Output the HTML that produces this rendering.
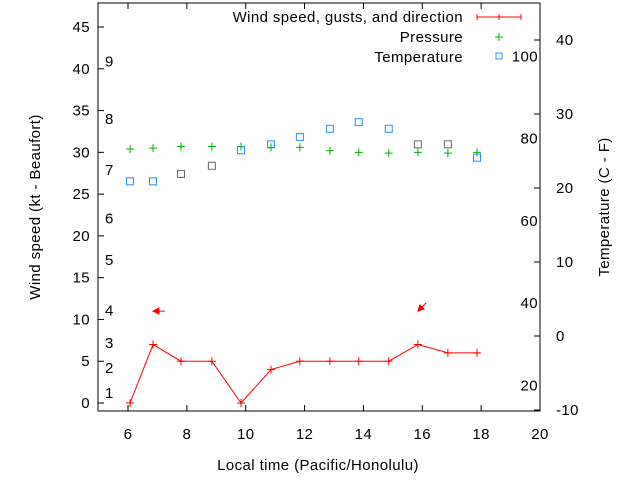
<!DOCTYPE html>
<html><head><meta charset="utf-8"><style>
body{margin:0;background:#fff;}
svg{display:block;font-family:"Liberation Sans",sans-serif;font-size:15px;letter-spacing:0.4px;}
</style></head><body>
<svg id="c" width="640" height="480"></svg>
<script>
const hours=[6.07,6.85,7.8,8.85,9.84,10.86,11.84,12.86,13.84,14.86,15.85,16.87,17.86];
const wind=[0,7,5,5,0,4,5,5,5,5,7,6,6];
const pressure=[30.4,30.5,30.7,30.7,30.7,30.6,30.6,30.2,30.0,29.9,30.0,29.9,30.0];
const tempC=[20.9,20.9,21.9,23.0,25.1,25.9,26.9,28.0,28.9,28.0,25.9,25.9,24.1];
const tempColor=["#1e90ff","#1e90ff","#666","#666","#1e90ff","#1e90ff","#1e90ff","#1e90ff","#1e90ff","#1e90ff","#666","#666","#1e90ff"];
const xTicks=[6,8,10,12,14,16,18,20];
const yTicks=[0,5,10,15,20,25,30,35,40,45];
const cTicks=[-10,0,10,20,30,40];
const fTicks=[20,40,60,80,100];
const beaufort=[1,2,3,4,5,6,7,8,9];
const beaufortKt=[1.2,4.2,7.2,11.1,17.1,22.1,27.9,34,40.9];
const arrows=[{t:6.85,w:11,dx:-1,dy:0},{t:15.85,w:11,dx:-0.7,dy:0.7}];

const L=98,R=540,T=3,B=411;
const X=v=>128+(v-6)*(412/14);
const Y=v=>403-v*(376/45);
const YC=c=>336-c*7.4;
const YF=f=>YC((f-32)*5/9);
const svg=document.getElementById('c');
const NS='http://www.w3.org/2000/svg';
function mk(tag,at,txt){const e=document.createElementNS(NS,tag);for(const k in at)e.setAttribute(k,at[k]);if(txt!==undefined)e.textContent=txt;svg.appendChild(e);return e;}

let e=mk('rect',{x:L,y:T,width:R-L,height:B-T,fill:'none',stroke:'#000'});


xTicks.forEach(v=>{
  mk('line',{x1:X(v),x2:X(v),y1:B,y2:B-6,stroke:'#000'});
  mk('line',{x1:X(v),x2:X(v),y1:T,y2:T+6,stroke:'#000'});
  e=mk('text',{x:X(v),y:439,'text-anchor':'middle'},v);
  
  
});
yTicks.forEach(v=>{
  mk('line',{x1:L,x2:L+6,y1:Y(v),y2:Y(v),stroke:'#000'});
  e=mk('text',{x:L-8,y:Y(v)+5,'text-anchor':'end'},v);
  
  
});
cTicks.forEach(v=>{
  mk('line',{x1:R,x2:R-6,y1:YC(v),y2:YC(v),stroke:'#000'});
  e=mk('text',{x:556,y:YC(v)+5},v);
  
  
});
fTicks.forEach(v=>{
  e=mk('text',{x:538,y:YF(v)+5,'text-anchor':'end'},v);
  
  
});
beaufort.forEach((b,i)=>{
  e=mk('text',{x:105,y:Y(beaufortKt[i])+5},b);
  
  
});
hours.forEach((h,i)=>{
  const x=X(h),y=Y(pressure[i]);
  e=mk('path',{d:`M${x-4},${y}h8M${x},${y-4}v8`,stroke:'#00b000'});
  
  
});
hours.forEach((h,i)=>{
  e=mk('rect',{x:X(h)-3.5,y:YC(tempC[i])-3.5,width:7,height:7,fill:'none',stroke:tempColor[i]});
  
  
});
e=mk('polyline',{points:hours.map((h,i)=>X(h)+','+Y(wind[i])).join(' '),fill:'none',stroke:'#f00'});


hours.forEach((h,i)=>{
  const x=X(h),y=Y(wind[i]);
  e=mk('path',{d:`M${x-4},${y}h8M${x},${y-4}v8`,stroke:'#f00'});
  
  
});
arrows.forEach(a=>{
  const x=X(a.t),y=Y(a.w);
  const x0=x-a.dx*12,y0=y-a.dy*12;
  const px=-a.dy,py=a.dx;
  e=mk('path',{d:`M${x0},${y0}L${x},${y}M${x},${y}L${x-a.dx*6+px*3},${y-a.dy*6+py*3}L${x-a.dx*6-px*3},${y-a.dy*6-py*3}Z`,stroke:'#f00',fill:'#f00'});
  
  
});
e=mk('text',{x:463,y:22,'text-anchor':'end'},'Wind speed, gusts, and direction');


mk('path',{d:'M477,17h44M477,14v6M499,14v6M521,14v6',stroke:'#f00'});
e=mk('text',{x:463,y:42,'text-anchor':'end'},'Pressure');


mk('path',{d:'M495,37h8M499,33v8',stroke:'#00b000'});
e=mk('text',{x:463,y:62,'text-anchor':'end'},'Temperature');


mk('rect',{x:496,y:53,width:6,height:6,fill:'none',stroke:'#1e90ff'});
e=mk('text',{x:0,y:0,'text-anchor':'middle',transform:'translate(40,207) rotate(-90)'},'Wind speed (kt - Beaufort)');


e=mk('text',{x:0,y:0,'text-anchor':'middle',transform:'translate(609,207) rotate(-90)'},'Temperature (C - F)');


e=mk('text',{x:318,y:470,'text-anchor':'middle'},'Local time (Pacific/Honolulu)');


</script>
</body></html>
